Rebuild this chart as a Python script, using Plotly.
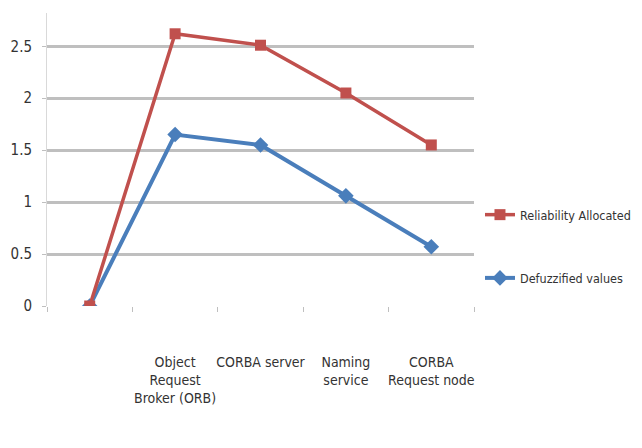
import plotly.graph_objects as go

categories = ["", "Object<br>Request<br>Broker (ORB)", "CORBA server", "Naming<br>service", "CORBA<br>Request node"]
reliability_allocated = [0, 2.62, 2.51, 2.05, 1.55]
defuzzified_values = [0, 1.65, 1.55, 1.06, 0.57]
y_ticks = [0, 0.5, 1, 1.5, 2, 2.5]
y_tick_labels = ["0", "0.5", "1", "1.5", "2", "2.5"]

FONT = "Liberation Sans Narrow, DejaVu Sans Condensed, Arial Narrow, sans-serif"

fig = go.Figure()
fig.add_trace(go.Scatter(
    x=categories, y=defuzzified_values, name="Defuzzified values",
    mode="lines+markers", legendgroup="b", legendrank=2,
    line=dict(color="#4A7EBB", width=4),
    marker=dict(symbol="diamond", size=12, color="#4A7EBB"),
))
fig.add_trace(go.Scatter(
    x=categories, y=reliability_allocated, name="Reliability Allocated",
    mode="lines+markers", legendgroup="a", legendrank=1,
    line=dict(color="#C0504D", width=3.5),
    marker=dict(symbol="square", size=11, color="#C0504D"),
))

fig.update_layout(
    width=642, height=448,
    margin=dict(l=39, r=176, t=5, b=150),
    plot_bgcolor="white", paper_bgcolor="white",
    font=dict(family=FONT, size=15, color="#333333"),
    legend=dict(x=1.014, y=0.203, xanchor="left", yanchor="middle",
                font=dict(size=12.5), tracegroupgap=44, itemwidth=30,
                borderwidth=0),
    showlegend=True,
)
fig.update_xaxes(
    type="category", categoryorder="array", categoryarray=categories,
    range=[-0.5, 4.5], automargin=False,
    showgrid=False, showline=False, zeroline=False,
    ticks="outside", tickson="boundaries", ticklen=5, tickcolor="#bfbfbf",
    tickfont=dict(size=14), tickangle=0, ticklabelstandoff=46,
)
fig.update_yaxes(
    range=[0, 2.82], tickvals=y_ticks, ticktext=y_tick_labels, automargin=False,
    showgrid=True, gridcolor="#bfbfbf", gridwidth=2.5,
    showline=True, linecolor="#d9d9d9", linewidth=1,
    zeroline=False, ticks="outside", ticklen=4, tickcolor="#bfbfbf",
    tickfont=dict(size=15), ticklabelstandoff=7,
)

fig.write_html("out.html")
